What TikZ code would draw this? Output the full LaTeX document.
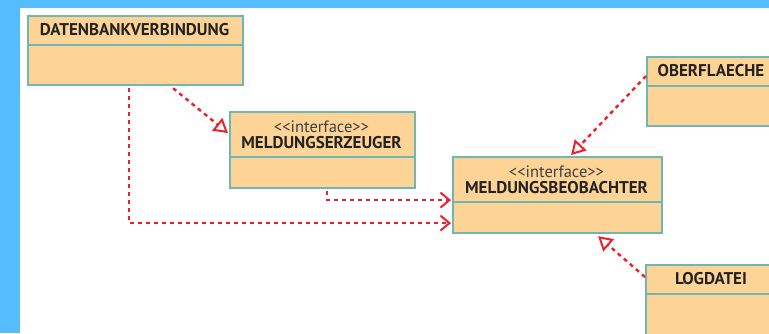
\documentclass[tikz,border=0pt]{standalone}
\usepackage{fontspec}
\setmainfont{PT Sans}
\usetikzlibrary{arrows.meta,calc}
\definecolor{bgblue}{HTML}{55BCFD}
\definecolor{boxfill}{HTML}{FDD496}
\definecolor{boxline}{HTML}{70B6B4}
\definecolor{linered}{HTML}{E8232B}
\definecolor{txt}{HTML}{222222}
\definecolor{stereo}{HTML}{404040}
\tikzset{
  umlbox/.style={draw=boxline, fill=boxfill, line width=2.2pt, rectangle, inner sep=0pt, anchor=north west},
  sepline/.style={draw=boxline, line width=2.2pt},
  title/.style={font=\fontsize{17}{19}\selectfont\bfseries, text=txt, inner sep=0pt},
  stereotype/.style={font=\fontsize{16.5}{18}\selectfont, text=stereo, inner sep=0pt},
  dep/.style={draw=linered, line width=2.4pt, dash pattern=on 4pt off 4pt, -{Straight Barb[length=9pt,width=15pt,line width=2pt]}},
  real/.style={draw=linered, line width=2.4pt, dash pattern=on 4pt off 4pt, -{Triangle[open,fill=white,length=14pt,width=16pt,line width=2pt]}},
}
\begin{document}
\begin{tikzpicture}[x=1pt,y=-1pt]
\useasboundingbox (0,0) rectangle (769,333);
\clip (0,0) rectangle (769,333);
\fill[bgblue] (0,0) rectangle (769,333);
\fill[white] (20,8) rectangle (790,340);
% boxes
\node[umlbox, minimum width=215pt, minimum height=69pt] (db) at (27,15) {};
\draw[sepline] (27,45) -- (242,45);
\node[title] (dbt) at (134.5,30) {DATENBANKVERBINDUNG};

\node[umlbox, minimum width=185pt, minimum height=76pt] (erz) at (229,111) {};
\draw[sepline] (229,157) -- (414,157);
\node[stereotype] (erzs) at (321.5,127) {<{}<interface>{}>};
\node[title] (erzt) at (321.5,143) {MELDUNGSERZEUGER};

\node[umlbox, minimum width=209pt, minimum height=76pt] (beo) at (452,156) {};
\draw[sepline] (452,202) -- (661,202);
\node[stereotype] (beos) at (556.5,172) {<{}<interface>{}>};
\node[title] (beot) at (556.5,188) {MELDUNGSBEOBACHTER};

\node[umlbox, minimum width=140pt, minimum height=69pt] (ober) at (646,56) {};
\draw[sepline] (646,86) -- (790,86);
\node[title] (obert) at (711,71) {OBERFLAECHE};

\node[umlbox, minimum width=140pt, minimum height=80pt] (log) at (645,264) {};
\draw[sepline] (645,294) -- (790,294);
\node[title] (logt) at (711,279) {LOGDATEI};

% connectors
\draw[real] ([xshift=37.5pt,yshift=-2pt]db.south) -- ([xshift=-1pt,yshift=17pt]erz.west);
\draw[dep] ([xshift=-6.5pt,yshift=-2pt]db.south) |- ([xshift=-1pt,yshift=-28pt]beo.west);
\draw[dep] ([xshift=4.5pt,yshift=-2pt]erz.south) |- ([xshift=-1pt,yshift=-5pt]beo.west);
\draw[real] ([yshift=-20pt]ober.north west) -- ([xshift=13.5pt,yshift=1pt]beo.north);
\draw[real] ([yshift=-13pt]log.north west) -- ([xshift=40.5pt,yshift=-2pt]beo.south);
\end{tikzpicture}
\end{document}
